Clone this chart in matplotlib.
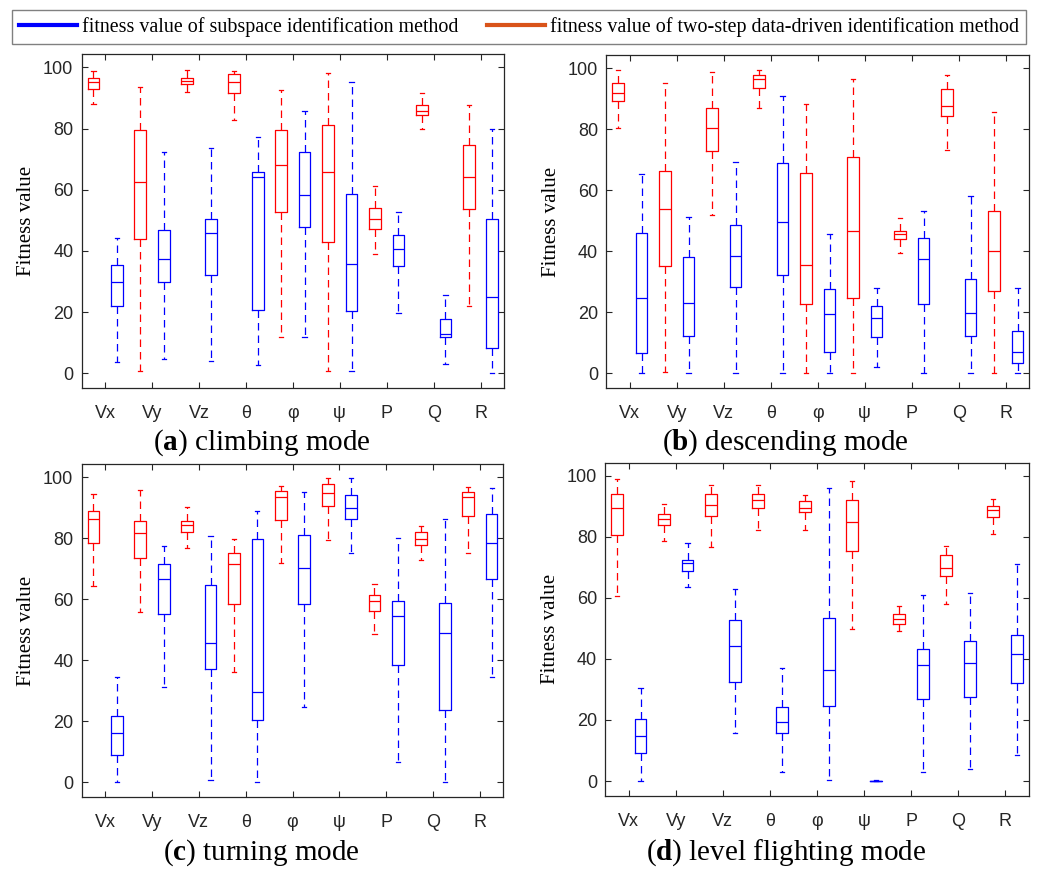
import matplotlib
matplotlib.use("Agg")
import matplotlib.pyplot as plt
from matplotlib.lines import Line2D

plt.rcParams["font.family"] = ["Liberation Sans", "DejaVu Sans"]
plt.rcParams["mathtext.fontset"] = "custom"
plt.rcParams["mathtext.rm"] = "Liberation Serif"
plt.rcParams["mathtext.bf"] = "Liberation Serif:bold"

variables = ["Vx", "Vy", "Vz", "θ", "φ", "ψ", "P", "Q", "R"]

# each row: lower whisker, q1, median, q3, upper whisker
climb_two_step = [
    [87.9, 92.9, 95.1, 96.4, 99.0],
    [0.8, 43.9, 62.6, 79.7, 93.6],
    [91.9, 94.6, 95.5, 96.4, 99.2],
    [82.7, 91.7, 95.1, 97.7, 99.0],
    [12.0, 52.6, 68.2, 79.7, 92.7],
    [0.9, 42.8, 65.9, 81.2, 98.1],
    [38.9, 47.3, 50.4, 54.1, 61.3],
    [79.8, 84.5, 85.9, 87.6, 91.8],
    [22.1, 53.6, 64.1, 74.7, 87.8],
]
climb_subspace = [
    [3.6, 22.1, 29.7, 35.5, 44.3],
    [4.7, 30.0, 37.5, 46.9, 72.2],
    [4.1, 32.0, 45.8, 50.4, 73.7],
    [2.7, 20.7, 64.1, 65.9, 77.3],
    [11.9, 48.0, 58.2, 72.4, 85.8],
    [0.7, 20.3, 35.6, 58.7, 95.3],
    [19.6, 35.0, 40.6, 45.3, 52.8],
    [2.9, 11.9, 13.0, 17.9, 25.5],
    [0.0, 8.3, 25.1, 50.3, 79.8],
]
desc_two_step = [
    [80.3, 89.2, 91.8, 95.1, 99.3],
    [0.5, 35.3, 53.9, 66.4, 95.0],
    [51.9, 73.0, 80.5, 87.0, 98.6],
    [87.0, 93.6, 96.4, 97.9, 99.3],
    [0.0, 22.8, 35.4, 65.5, 88.4],
    [0.0, 24.8, 46.8, 71.0, 96.3],
    [39.5, 43.9, 45.5, 46.8, 51.0],
    [73.2, 84.3, 87.7, 93.1, 97.6],
    [0.2, 26.9, 40.0, 53.3, 85.5],
]
desc_subspace = [
    [0.0, 6.6, 24.6, 45.9, 65.4],
    [0.0, 12.1, 23.2, 38.1, 51.3],
    [0.0, 28.3, 38.6, 48.7, 69.2],
    [0.0, 32.2, 49.6, 68.9, 90.8],
    [0.0, 6.9, 19.3, 27.7, 45.6],
    [2.1, 11.8, 18.0, 22.1, 28.0],
    [0.0, 22.7, 37.4, 44.3, 53.2],
    [0.0, 12.3, 19.9, 30.9, 58.1],
    [0.0, 3.3, 7.0, 13.9, 27.9],
]
turn_two_step = [
    [64.3, 78.5, 86.2, 88.8, 94.6],
    [55.8, 73.4, 81.8, 85.5, 95.9],
    [76.8, 82.0, 84.2, 85.6, 90.1],
    [36.2, 58.4, 71.7, 75.0, 79.6],
    [71.9, 86.0, 93.6, 95.4, 97.1],
    [79.3, 90.4, 94.7, 97.9, 99.6],
    [48.7, 56.0, 59.5, 61.4, 64.9],
    [72.9, 77.9, 79.6, 82.1, 84.1],
    [75.2, 87.1, 93.6, 95.2, 96.9],
]
turn_subspace = [
    [0.0, 8.9, 16.2, 21.6, 34.4],
    [31.4, 55.3, 66.6, 71.6, 77.5],
    [0.7, 37.2, 45.8, 64.7, 80.6],
    [0.0, 20.3, 29.6, 79.8, 88.9],
    [24.6, 58.4, 70.1, 81.0, 95.0],
    [75.0, 86.4, 89.9, 94.3, 99.6],
    [6.8, 38.4, 54.4, 59.5, 79.9],
    [0.0, 23.7, 49.0, 58.8, 86.4],
    [34.4, 66.6, 78.3, 88.0, 96.4],
]
level_two_step = [
    [60.5, 80.6, 89.4, 94.1, 98.9],
    [78.6, 83.9, 85.7, 87.6, 90.7],
    [76.6, 86.9, 90.3, 93.9, 96.9],
    [82.3, 89.4, 92.2, 94.1, 97.1],
    [82.4, 88.2, 89.3, 91.9, 93.8],
    [49.9, 75.4, 84.8, 92.2, 98.4],
    [49.3, 51.4, 53.1, 54.8, 57.4],
    [58.0, 67.2, 69.7, 74.2, 76.9],
    [81.0, 86.4, 88.7, 90.2, 92.4],
]
level_subspace = [
    [0.0, 9.1, 14.6, 20.3, 30.4],
    [63.7, 68.8, 71.6, 72.5, 77.9],
    [15.7, 32.6, 44.1, 52.7, 63.0],
    [2.8, 15.6, 19.5, 24.4, 37.1],
    [0.2, 24.6, 36.4, 53.5, 96.1],
    [0.0, 0.05, 0.1, 0.15, 0.2],
    [2.8, 27.0, 38.1, 43.1, 61.0],
    [3.8, 27.5, 38.8, 46.0, 61.7],
    [8.5, 32.0, 41.6, 47.7, 71.0],
]

panels = [
    (climb_two_step, climb_subspace, "a", "climbing mode"),
    (desc_two_step, desc_subspace, "b", "descending mode"),
    (turn_two_step, turn_subspace, "c", "turning mode"),
    (level_two_step, level_subspace, "d", "level flighting mode"),
]
rects = [
    [0.0787, 0.5552, 0.4069, 0.3826],
    [0.5841, 0.5552, 0.4075, 0.3818],
    [0.0787, 0.0867, 0.4062, 0.3818],
    [0.5831, 0.0882, 0.4079, 0.3818],
]
caption_x = [0.252, 0.757, 0.252, 0.757]
caption_y = [0.493, 0.493, 0.023, 0.023]

red = "#FF0000"
blue = "#0000FF"


def to_stats(rows):
    return [dict(whislo=r[0], q1=r[1], med=r[2], q3=r[3], whishi=r[4], fliers=[]) for r in rows]


def draw_group(ax, rows, pos, color):
    lw = 0.9
    ax.bxp(to_stats(rows), positions=pos, widths=0.5, capwidths=0.18,
           showfliers=False,
           boxprops=dict(color=color, lw=lw),
           medianprops=dict(color=color, lw=lw),
           whiskerprops=dict(color=color, lw=lw, ls=(0, (6, 4))),
           capprops=dict(color=color, lw=lw))


fig = plt.figure(figsize=(10.38, 8.73), dpi=100)

for (two_step, subspace, letter, name), rect, cx, cy in zip(panels, rects, caption_x, caption_y):
    ax = fig.add_axes(rect)
    n = len(variables)
    draw_group(ax, two_step, [2 * i + 1 for i in range(n)], red)
    draw_group(ax, subspace, [2 * i + 2 for i in range(n)], blue)
    ax.set_xlim(0.5, 2 * n + 0.5)
    ax.set_ylim(-4.9, 104.3)
    ax.set_xticks([2 * i + 1.5 for i in range(n)])
    ax.set_xticklabels(variables)
    ax.set_yticks([0, 20, 40, 60, 80, 100])
    ax.tick_params(direction="in", top=True, right=True, length=4, width=0.8,
                   labelsize=13, colors="#262626", pad=6)
    ax.tick_params(axis="x", pad=12)
    for sp in ax.spines.values():
        sp.set_linewidth(0.9)
        sp.set_color("#262626")
    ax.set_ylabel("Fitness value", family="Liberation Serif", fontsize=15, labelpad=5)
    fig.text(cx, cy, "($\\mathbf{" + letter + "}$) " + name, ha="center", va="center",
             family="Liberation Serif", fontsize=21)

handles = [Line2D([], [], color="#0000FF", lw=3),
           Line2D([], [], color="#D95319", lw=3)]
labels = ["fitness value of subspace identification method",
          "fitness value of two-step data-driven identification method"]
fig.legend(handles, labels, loc="upper center", bbox_to_anchor=(0.5, 0.988), ncol=2,
           fancybox=False, edgecolor="#808080", framealpha=1,
           prop=dict(family="Liberation Serif", size=14.4), borderaxespad=0,
           handlelength=2.9, columnspacing=1.4, borderpad=0.35, handletextpad=0.25)

fig.savefig("out.png", dpi=100)
